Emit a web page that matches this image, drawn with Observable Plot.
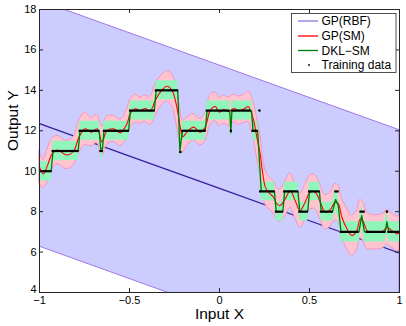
<!DOCTYPE html>
<html><head><meta charset="utf-8">
<script src="https://cdn.jsdelivr.net/npm/d3@7"></script>
<script src="https://cdn.jsdelivr.net/npm/@observablehq/plot@0.6"></script>
<style>body{margin:0;background:#fff}svg{display:block}</style>
</head><body><div id="chart"></div>
<script>
// ---- tick labels / names ----
const xTicks = [-1, -0.5, 0, 0.5, 1];
const xTickLabels = ["\u22121", "\u22120.5", "0", "0.5", "1"];
const yTicks = [4, 6, 8, 10, 12, 14, 16, 18];
const seriesNames = ["GP(RBF)", "GP(SM)", "DKL\u2212SM", "Training data"];
const xTitle = "Input X";
const yTitle = "Output Y";

// ---- GP(RBF): mean and band half-width ----
const rbfX = [-1, -0.5, 0, 0.5, 1];
const rbfMean = [12.35, 10.75, 9.15, 7.55, 5.95];
const rbfHalf = [6.08, 6.08, 6.08, 6.08, 6.08];

// ---- GP(SM): mean and band half-width ----
const smX = [-1.0, -0.978, -0.955, -0.93, -0.9, -0.85, -0.81, -0.78, -0.746, -0.71, -0.68, -0.653, -0.626, -0.59, -0.55, -0.514, -0.496, -0.468, -0.44, -0.413, -0.385, -0.357, -0.33, -0.292, -0.264, -0.237, -0.218, -0.205, -0.181, -0.144, -0.107, -0.079, -0.052, -0.024, 0.0, 0.022, 0.05, 0.08, 0.105, 0.14, 0.16, 0.172, 0.19, 0.205, 0.225, 0.24, 0.255, 0.272, 0.3, 0.319, 0.337, 0.365, 0.393, 0.42, 0.448, 0.476, 0.504, 0.532, 0.56, 0.587, 0.615, 0.643, 0.661, 0.68, 0.708, 0.736, 0.763, 0.782, 0.8, 0.819, 0.847, 0.883, 0.912, 0.93, 0.958, 0.986, 1.0];
const smMean = [10.2, 9.87, 10.3, 10.86, 11.05, 10.8, 11.0, 11.7, 12.1, 11.93, 12.1, 11.45, 12.0, 12.1, 11.9, 12.35, 12.84, 13.09, 13.0, 13.1, 12.98, 13.5, 13.9, 14.2, 14.0, 13.17, 12.18, 11.7, 11.93, 12.18, 11.93, 12.18, 13.0, 13.2, 12.92, 13.05, 12.95, 13.1, 13.0, 13.1, 13.2, 13.0, 12.5, 11.8, 10.9, 9.9, 9.2, 8.96, 8.71, 8.38, 8.3, 8.63, 9.04, 8.55, 8.05, 8.47, 8.96, 8.96, 8.47, 7.97, 8.1, 8.47, 8.38, 7.72, 7.15, 6.82, 7.06, 7.64, 7.48, 7.06, 6.98, 6.98, 7.06, 7.23, 7.06, 6.9, 6.95];
const smHalf = [0.8, 0.7, 0.8, 0.75, 0.7, 0.7, 0.7, 0.8, 0.8, 0.7, 0.7, 0.75, 0.7, 0.65, 0.65, 0.7, 0.7, 0.7, 0.65, 0.65, 0.7, 0.8, 0.75, 0.75, 0.8, 0.9, 0.9, 0.8, 0.7, 0.65, 0.65, 0.7, 0.75, 0.7, 0.7, 0.7, 0.7, 0.7, 0.7, 0.7, 0.75, 0.8, 0.9, 1.0, 1.0, 0.9, 0.85, 0.8, 0.8, 0.8, 0.8, 0.85, 0.85, 0.85, 0.85, 0.85, 0.85, 0.85, 0.85, 0.85, 0.85, 0.9, 0.9, 0.95, 1.0, 1.0, 0.95, 0.95, 0.95, 0.9, 0.85, 0.85, 0.85, 0.85, 0.85, 0.85, 0.85];

// ---- DKL-SM: mean and band half-width ----
const dklX = [-1, -0.935, -0.925, -0.785, -0.775, -0.668, -0.66, -0.65, -0.642, -0.505, -0.495, -0.362, -0.352, -0.232, -0.22, -0.212, -0.205, -0.079, -0.069, 0.057, 0.063, 0.069, 0.178, 0.186, 0.212, 0.232, 0.305, 0.315, 0.352, 0.362, 0.436, 0.446, 0.49, 0.5, 0.555, 0.565, 0.628, 0.645, 0.66, 0.675, 0.775, 0.79, 0.805, 0.92, 0.93, 0.94, 1.0];
const dklMean = [10.0, 10.0, 11.0, 11.0, 12.0, 12.0, 11.1, 11.1, 12.0, 12.0, 13.0, 13.0, 14.0, 14.0, 11.0, 11.6, 12.0, 12.0, 13.0, 13.0, 11.9, 13.0, 13.0, 12.0, 12.0, 9.0, 9.0, 8.0, 8.0, 9.0, 9.0, 8.0, 8.0, 9.0, 9.0, 8.0, 8.0, 8.6, 8.3, 7.0, 7.0, 7.8, 7.0, 7.0, 7.5, 7.0, 7.0];
const dklHalf = [0.48, 0.48, 0.48, 0.47, 0.47, 0.47, 0.5, 0.5, 0.47, 0.47, 0.47, 0.47, 0.47, 0.47, 0.5, 0.5, 0.47, 0.47, 0.47, 0.47, 0.5, 0.47, 0.47, 0.47, 0.47, 0.46, 0.46, 0.46, 0.46, 0.46, 0.46, 0.46, 0.46, 0.46, 0.46, 0.46, 0.46, 0.55, 0.55, 0.5, 0.5, 0.55, 0.5, 0.5, 0.55, 0.5, 0.5];

// ---- Training data: dense runs (segments) and isolated points ----
const trainX1 = [-1.0, -0.93, -0.78, -0.665, -0.645, -0.50, -0.357, -0.21, -0.074, 0.068, 0.18, 0.222, 0.31, 0.356, 0.44, 0.494, 0.56, 0.64, 0.67, 0.78, 0.815, 0.935];
const trainX2 = [-0.93, -0.78, -0.665, -0.645, -0.50, -0.357, -0.227, -0.074, 0.058, 0.175, 0.215, 0.31, 0.356, 0.44, 0.494, 0.56, 0.633, 0.665, 0.775, 0.81, 0.925, 1.0];
const trainY = [10, 11, 12, 11, 12, 13, 14, 12, 13, 13, 12, 9, 8, 9, 8, 9, 8, 9, 7, 8, 7, 7];
const trainPtX = [-0.218, 0.063, 0.222, 0.93];
const trainPtY = [10.95, 12, 13, 8];

// ---- build tables ----
const rbf = rbfX.map((x, i) => ({x, y: rbfMean[i], lo: rbfMean[i] - rbfHalf[i], hi: rbfMean[i] + rbfHalf[i]}));
const sm = smX.map((x, i) => ({x, y: smMean[i], lo: smMean[i] - smHalf[i], hi: smMean[i] + smHalf[i]}));
const dkl = dklX.map((x, i) => ({x, y: dklMean[i], lo: dklMean[i] - dklHalf[i], hi: dklMean[i] + dklHalf[i]}));
const segs = trainY.map((y, i) => ({x1: trainX1[i], x2: trainX2[i], y}));
const pts = trainPtX.map((x, i) => ({x, y: trainPtY[i]}));

const W = 406, H = 326, mL = 39, mR = 7, mT = 9, mB = 34;
const innerW = W - mL - mR, innerH = H - mT - mB, tk = 4;
const font = "'Liberation Sans', Arial, Helvetica, sans-serif";
const axisColor = "#262626";

const plot = Plot.plot({
  width: W, height: H,
  marginLeft: mL, marginRight: mR, marginTop: mT, marginBottom: mB,
  style: {fontFamily: font, fontSize: "11px", background: "#fff", color: "#000"},
  x: {domain: [-1, 1], label: null},
  y: {domain: [4, 18], label: null},
  marks: [
    Plot.areaY(rbf, {x: "x", y1: "lo", y2: "hi", fill: "#ccccff", stroke: "#a277e6", strokeWidth: 1, clip: true}),
    Plot.line(rbf, {x: "x", y: "y", stroke: "#3a1d9c", strokeWidth: 1.3, clip: true}),
    Plot.areaY(sm, {x: "x", y1: "lo", y2: "hi", fill: "#ffc4d0", stroke: "#f78fb6", strokeWidth: 0.9, curve: "catmull-rom"}),
    Plot.areaY(dkl, {x: "x", y1: "lo", y2: "hi", fill: "#8ff5bb"}),
    Plot.line(sm, {x: "x", y: "y", stroke: "#ff0000", strokeWidth: 1.1, curve: "catmull-rom"}),
    Plot.line(dkl, {x: "x", y: "y", stroke: "#007a00", strokeWidth: 1.3}),
    Plot.ruleY(segs, {x1: "x1", x2: "x2", y: "y", stroke: "#000", strokeWidth: 2.2}),
    Plot.dot(pts, {x: "x", y: "y", r: 1.3, fill: "#000"}),
    Plot.frame({stroke: axisColor}),
    Plot.ruleX(xTicks, {x: d => d, insetTop: innerH - tk, stroke: axisColor}),
    Plot.ruleX(xTicks, {x: d => d, insetBottom: innerH - tk, stroke: axisColor}),
    Plot.ruleY(yTicks, {y: d => d, insetRight: innerW - tk, stroke: axisColor}),
    Plot.ruleY(yTicks, {y: d => d, insetLeft: innerW - tk, stroke: axisColor}),
    Plot.axisX(xTicks, {tickSize: 0, tickPadding: 4, label: null, fontSize: 11, tickFormat: d => xTickLabels[xTicks.indexOf(d)]}),
    Plot.axisY(yTicks.slice(1), {tickSize: 0, tickPadding: 3, label: null, fontSize: 11}),
    Plot.axisY(yTicks.slice(0, 1), {tickSize: 0, tickPadding: 3, label: null, fontSize: 11, dy: -3}),
    Plot.text([xTitle], {frameAnchor: "bottom", dy: 26.5, fontSize: 15.5, text: d => d}),
    Plot.text([yTitle], {frameAnchor: "left", dx: -26, rotate: -90, fontSize: 15.5, text: d => d})
  ]
});
document.getElementById("chart").appendChild(plot);

// ---- legend (inside plot, top right) ----
const svg = d3.select(plot.tagName.toLowerCase() === "svg" ? plot : plot.querySelector("svg"));
const lg = svg.append("g")
  .style("font-family", font).style("font-size", "12px").style("text-anchor", "start");
lg.append("rect").attr("x", 291.5).attr("y", 13.5).attr("width", 104.5).attr("height", 59)
  .style("fill", "#ffffff").style("stroke", axisColor).style("stroke-width", "0.8px");
const legColors = ["#8a78e0", "#ff0000", "#007a00", "#000"];
const rowY = [21, 36, 50.5, 65];
seriesNames.forEach((name, i) => {
  if (i < 3) {
    lg.append("line").attr("x1", 298).attr("x2", 318).attr("y1", rowY[i]).attr("y2", rowY[i])
      .style("stroke", legColors[i]).style("stroke-width", "1.3px");
  } else {
    lg.append("circle").attr("cx", 309).attr("cy", rowY[i]).attr("r", 0.9).style("fill", "#000");
  }
  lg.append("text").attr("x", 321.5).attr("y", rowY[i]).attr("dy", "0.36em")
    .style("fill", "#000").style("text-anchor", "start").text(name);
});
</script>
</body></html>
